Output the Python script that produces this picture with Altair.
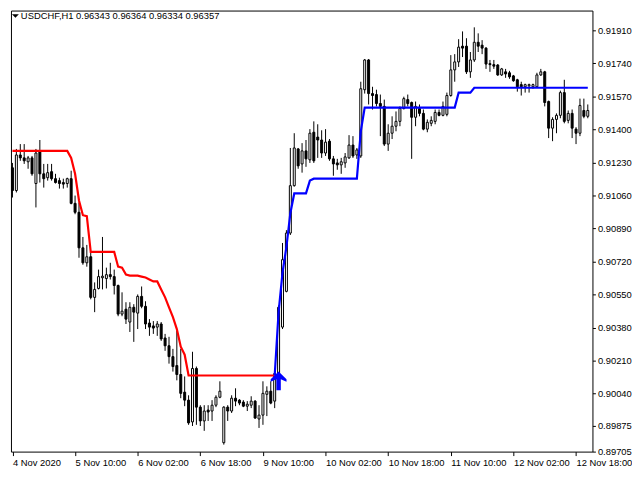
import altair as alt
import pandas as pd

# ---- candle data (H1 bars, index 0 = 4 Nov 18:00) ----
open_ = [0.91203, 0.91086, 0.91269, 0.91254, 0.91234, 0.91254, 0.91122, 0.91284, 0.91172, 0.91152,
         0.91183, 0.91147, 0.91137, 0.91127, 0.91122, 0.91147, 0.91020, 0.90974, 0.90791, 0.90714,
         0.90745, 0.90536, 0.90582, 0.90637, 0.90633, 0.90653, 0.90643, 0.90597, 0.90450, 0.90475,
         0.90409, 0.90485, 0.90455, 0.90541, 0.90490, 0.90404, 0.90389, 0.90383, 0.90399, 0.90327,
         0.90287, 0.90231, 0.90185, 0.90139, 0.90048, 0.90007, 0.89895, 0.90170, 0.89971, 0.89900,
         0.89956, 0.89951, 0.89981, 0.90022, 0.89788, 0.89971, 0.89951, 0.90017, 0.90007, 0.89997,
         0.89976, 0.89981, 0.90002, 0.89910, 0.89930, 0.90037, 0.90053, 0.90002, 0.90134, 0.90383,
         0.90567, 0.90867, 0.91111, 0.91300, 0.91223, 0.91290, 0.91244, 0.91386, 0.91361, 0.91346,
         0.91279, 0.91340, 0.91249, 0.91228, 0.91218, 0.91228, 0.91254, 0.91320, 0.91269, 0.91264,
         0.91605, 0.91758, 0.91585, 0.91580, 0.91534, 0.91519, 0.91325, 0.91381, 0.91417, 0.91442,
         0.91508, 0.91554, 0.91539, 0.91463, 0.91508, 0.91483, 0.91402, 0.91432, 0.91442, 0.91488,
         0.91473, 0.91478, 0.91575, 0.91707, 0.91748, 0.91829, 0.91829, 0.91697, 0.91758, 0.91849,
         0.91834, 0.91819, 0.91739, 0.91734, 0.91732, 0.91681, 0.91697, 0.91692, 0.91676, 0.91656,
         0.91631, 0.91620, 0.91625, 0.91620, 0.91620, 0.91681, 0.91697, 0.91544, 0.91407, 0.91452,
         0.91473, 0.91590, 0.91447, 0.91483, 0.91402, 0.91381, 0.91498, 0.91468]
high = [0.91228, 0.91300, 0.91325, 0.91325, 0.91264, 0.91264, 0.91300, 0.91346, 0.91223, 0.91223,
        0.91223, 0.91172, 0.91152, 0.91147, 0.91152, 0.91188, 0.91060, 0.91025, 0.90847, 0.90806,
        0.90770, 0.90613, 0.90679, 0.90847, 0.90689, 0.90714, 0.90679, 0.90602, 0.90562, 0.90511,
        0.90511, 0.90501, 0.90551, 0.90592, 0.90516, 0.90424, 0.90414, 0.90414, 0.90409, 0.90348,
        0.90333, 0.90271, 0.90363, 0.90271, 0.90129, 0.90032, 0.90256, 0.90180, 0.89981, 0.89981,
        0.89981, 0.90007, 0.90032, 0.90104, 0.89976, 0.89981, 0.90032, 0.90068, 0.90012, 0.90007,
        0.90002, 0.90027, 0.90007, 0.89981, 0.90104, 0.90078, 0.90104, 0.90160, 0.90495, 0.90816,
        0.90882, 0.91305, 0.91381, 0.91305, 0.91330, 0.91346, 0.91402, 0.91442, 0.91427, 0.91396,
        0.91402, 0.91351, 0.91264, 0.91249, 0.91254, 0.91279, 0.91371, 0.91366, 0.91305, 0.91646,
        0.91763, 0.91763, 0.91620, 0.91605, 0.91580, 0.91554, 0.91427, 0.91468, 0.91493, 0.91519,
        0.91569, 0.91580, 0.91544, 0.91544, 0.91529, 0.91503, 0.91452, 0.91468, 0.91503, 0.91503,
        0.91544, 0.91590, 0.91783, 0.91788, 0.91865, 0.91905, 0.91870, 0.91799, 0.91926, 0.91895,
        0.91860, 0.91824, 0.91758, 0.91758, 0.91737, 0.91717, 0.91712, 0.91702, 0.91681, 0.91661,
        0.91646, 0.91636, 0.91636, 0.91636, 0.91692, 0.91712, 0.91702, 0.91549, 0.91463, 0.91483,
        0.91600, 0.91656, 0.91498, 0.91503, 0.91412, 0.91559, 0.91559, 0.91529]
low = [0.91050, 0.91076, 0.91239, 0.91223, 0.91198, 0.91162, 0.90999, 0.91127, 0.91101, 0.91137,
       0.91137, 0.91122, 0.91096, 0.91096, 0.91101, 0.91015, 0.90964, 0.90740, 0.90704, 0.90694,
       0.90526, 0.90460, 0.90577, 0.90577, 0.90582, 0.90628, 0.90551, 0.90439, 0.90439, 0.90399,
       0.90358, 0.90307, 0.90373, 0.90480, 0.90373, 0.90338, 0.90348, 0.90338, 0.90312, 0.90261,
       0.90195, 0.90154, 0.90109, 0.90017, 0.89976, 0.89880, 0.89874, 0.89880, 0.89874, 0.89849,
       0.89900, 0.89900, 0.89971, 0.90017, 0.89778, 0.89900, 0.89941, 0.89976, 0.89981, 0.89971,
       0.89951, 0.89966, 0.89910, 0.89864, 0.89880, 0.89925, 0.89986, 0.89966, 0.90119, 0.90373,
       0.90562, 0.90857, 0.91106, 0.91198, 0.91178, 0.91208, 0.91228, 0.91228, 0.91254, 0.91254,
       0.91264, 0.91239, 0.91162, 0.91193, 0.91172, 0.91203, 0.91249, 0.91254, 0.91249, 0.91254,
       0.91585, 0.91529, 0.91503, 0.91519, 0.91366, 0.91315, 0.91290, 0.91351, 0.91391, 0.91417,
       0.91503, 0.91519, 0.91249, 0.91417, 0.91468, 0.91396, 0.91386, 0.91417, 0.91427, 0.91468,
       0.91468, 0.91468, 0.91569, 0.91646, 0.91722, 0.91773, 0.91686, 0.91666, 0.91748, 0.91799,
       0.91788, 0.91712, 0.91697, 0.91712, 0.91676, 0.91676, 0.91666, 0.91661, 0.91646, 0.91595,
       0.91575, 0.91590, 0.91590, 0.91610, 0.91615, 0.91676, 0.91519, 0.91356, 0.91340, 0.91381,
       0.91458, 0.91432, 0.91432, 0.91356, 0.91325, 0.91366, 0.91458, 0.91458]
close = [0.91086, 0.91269, 0.91254, 0.91239, 0.91254, 0.91172, 0.91279, 0.91172, 0.91147, 0.91178,
         0.91147, 0.91127, 0.91122, 0.91119, 0.91147, 0.91020, 0.90974, 0.90791, 0.90714, 0.90745,
         0.90536, 0.90577, 0.90643, 0.90645, 0.90653, 0.90643, 0.90597, 0.90450, 0.90465, 0.90424,
         0.90485, 0.90460, 0.90541, 0.90490, 0.90399, 0.90383, 0.90378, 0.90399, 0.90322, 0.90287,
         0.90231, 0.90180, 0.90139, 0.90042, 0.90007, 0.89890, 0.90170, 0.89971, 0.89900, 0.89951,
         0.89946, 0.89981, 0.90022, 0.90053, 0.89971, 0.89951, 0.90017, 0.90002, 0.89992, 0.89976,
         0.89986, 0.90002, 0.89915, 0.89930, 0.90042, 0.90053, 0.89992, 0.90144, 0.90485, 0.90730,
         0.90867, 0.91111, 0.91305, 0.91213, 0.91290, 0.91249, 0.91381, 0.91239, 0.91346, 0.91279,
         0.91335, 0.91249, 0.91223, 0.91218, 0.91234, 0.91259, 0.91320, 0.91264, 0.91295, 0.91610,
         0.91758, 0.91585, 0.91575, 0.91534, 0.91519, 0.91325, 0.91381, 0.91417, 0.91442, 0.91508,
         0.91559, 0.91534, 0.91463, 0.91519, 0.91483, 0.91402, 0.91437, 0.91447, 0.91488, 0.91473,
         0.91519, 0.91575, 0.91707, 0.91748, 0.91824, 0.91819, 0.91697, 0.91758, 0.91849, 0.91829,
         0.91819, 0.91737, 0.91734, 0.91726, 0.91681, 0.91712, 0.91686, 0.91671, 0.91651, 0.91620,
         0.91620, 0.91631, 0.91631, 0.91631, 0.91681, 0.91697, 0.91539, 0.91407, 0.91452, 0.91473,
         0.91590, 0.91442, 0.91483, 0.91407, 0.91381, 0.91524, 0.91468, 0.91498]

# ---- trailing-stop indicator (red = down trend, blue = up trend) ----
RED_START = 0
red_line = [0.91290, 0.91290, 0.91290, 0.91290, 0.91290, 0.91290, 0.91290, 0.91290, 0.91290, 0.91290,
            0.91290, 0.91290, 0.91290, 0.91290, 0.91290, 0.91254, 0.91172, 0.91035, 0.90959, 0.90954,
            0.90770, 0.90770, 0.90770, 0.90770, 0.90770, 0.90770, 0.90770, 0.90694, 0.90689, 0.90653,
            0.90648, 0.90648, 0.90648, 0.90643, 0.90638, 0.90628, 0.90618, 0.90618, 0.90577, 0.90536,
            0.90485, 0.90434, 0.90373, 0.90282, 0.90241, 0.90134, 0.90134, 0.90134, 0.90134, 0.90134,
            0.90134, 0.90134, 0.90134, 0.90134, 0.90134, 0.90134, 0.90134, 0.90134, 0.90134, 0.90134,
            0.90134, 0.90134, 0.90134, 0.90134, 0.90134, 0.90134, 0.90134, 0.90134]
BLUE_START = 67
blue_line = [0.90134, 0.90460, 0.90663, 0.90796, 0.90969, 0.91071, 0.91071, 0.91071, 0.91071, 0.91137,
             0.91147, 0.91147, 0.91147, 0.91147, 0.91147, 0.91147, 0.91147, 0.91147, 0.91147, 0.91147,
             0.91147, 0.91147, 0.91391, 0.91513, 0.91513, 0.91513, 0.91513, 0.91513, 0.91513, 0.91513,
             0.91513, 0.91513, 0.91513, 0.91513, 0.91513, 0.91513, 0.91513, 0.91513, 0.91513, 0.91513,
             0.91513, 0.91513, 0.91513, 0.91513, 0.91513, 0.91513, 0.91513, 0.91590, 0.91590, 0.91590,
             0.91590, 0.91615, 0.91615, 0.91615, 0.91615, 0.91615, 0.91615, 0.91615, 0.91615, 0.91615,
             0.91615, 0.91615, 0.91615, 0.91615, 0.91615, 0.91615, 0.91615, 0.91615, 0.91615, 0.91615,
             0.91615, 0.91615, 0.91615, 0.91615, 0.91615, 0.91615, 0.91615, 0.91615, 0.91615, 0.91615,
             0.91615]
arrow_bar = [68]
arrow_price = [0.90106]

# ---- axis labels ----
x_tick_values = [0, 16, 32, 48, 64, 80, 96, 112, 128, 144]
x_tick_labels = ["4 Nov 2020", "5 Nov 10:00", "6 Nov 02:00", "6 Nov 18:00", "9 Nov 10:00",
                 "10 Nov 02:00", "10 Nov 18:00", "11 Nov 10:00", "12 Nov 02:00", "12 Nov 18:00"]
y_tick_values = [0.91910, 0.91740, 0.91570, 0.91400, 0.91230, 0.91060, 0.90890, 0.90720,
                 0.90550, 0.90380, 0.90210, 0.90040, 0.89875, 0.89743]
y_tick_labels = ["0.91910", "0.91740", "0.91570", "0.91400", "0.91230", "0.91060", "0.90890",
                 "0.90720", "0.90550", "0.90380", "0.90210", "0.90040", "0.89875", "0.89705"]
title_text = ["USDCHF,H1  0.96343 0.96364 0.96334 0.96357"]

FONT = "Liberation Sans"

n = len(open_)
candles = pd.DataFrame({"bar": list(range(n)), "open": open_, "high": high,
                        "low": low, "close": close})
candles["dir"] = ["up" if c >= o else "down" for o, c in zip(open_, close)]
red_df = pd.DataFrame({"bar": list(range(RED_START, RED_START + len(red_line))), "v": red_line})
blue_df = pd.DataFrame({"bar": list(range(BLUE_START, BLUE_START + len(blue_line))), "v": blue_line})
arrow_df = pd.DataFrame({"bar": arrow_bar, "v": arrow_price})
title_df = pd.DataFrame({"t": title_text})

xs = alt.Scale(domain=[-0.38, 148.19], nice=False, zero=False, padding=0)
ys = alt.Scale(domain=[0.897421, 0.920123], nice=False, zero=False, padding=0)

x_label_expr = ("[" + ",".join("'%s'" % l for l in x_tick_labels) + "][indexof(["
                + ",".join(str(v) for v in x_tick_values) + "], datum.value)]")
y_label_expr = ("[" + ",".join("'%s'" % l for l in y_tick_labels) + "][indexof(["
                + ",".join(repr(v) for v in y_tick_values) + "], datum.value)]")

x_axis = alt.Axis(values=x_tick_values, labelExpr=x_label_expr, title=None, grid=False,
                  domain=False, tickSize=4, tickColor="black", labelColor="black",
                  labelFont=FONT, labelFontSize=9.5, labelAlign="left", labelBaseline="top",
                  labelPadding=2, labelFlush=False, labelOverlap=False)
y_axis = alt.Axis(values=y_tick_values, labelExpr=y_label_expr, orient="right", title=None,
                  grid=False, domain=False, tickSize=3, tickColor="black", labelColor="black",
                  labelFont=FONT, labelFontSize=9.5, labelBaseline="middle", labelPadding=2,
                  labelFlush=False, labelOverlap=False)


def X():
    return alt.X("bar:Q", scale=xs, axis=x_axis)


def Y(field):
    return alt.Y(field + ":Q", scale=ys, axis=y_axis)


base = alt.Chart(candles)
wicks = base.mark_rule(color="black", strokeWidth=1).encode(
    x=X(), y=Y("low"), y2="high:Q")
bodies = base.mark_bar(size=2, stroke="black", strokeWidth=1).encode(
    x=X(), y=Y("open"), y2="close:Q",
    fill=alt.Fill("dir:N", scale=alt.Scale(domain=["up", "down"], range=["white", "black"]),
                  legend=None),
)
red = alt.Chart(red_df).mark_line(color="#FF0000", strokeWidth=2.2).encode(x=X(), y=Y("v"))
blue = alt.Chart(blue_df).mark_line(color="#0000FF", strokeWidth=2.2).encode(x=X(), y=Y("v"))
arrow_path = ("M0,-1.19L1,-0.2L1,0.1L0.28,-0.2L0.28,1.19L-0.28,1.19L-0.28,-0.2"
              "L-1,0.1L-1,-0.2Z")
arrow = alt.Chart(arrow_df).mark_point(shape=arrow_path, filled=True, color="#0000FF",
                                       size=256, opacity=1).encode(x=X(), y=Y("v"))
title = alt.Chart(title_df).mark_text(align="left", baseline="top", font=FONT, fontSize=9.5,
                                      color="black").encode(
    text="t:N", x=alt.value(10), y=alt.value(1))
tri = alt.Chart(title_df).mark_point(shape="M-1,-0.5L1,-0.5L0,0.5Z", filled=True,
                                     color="black", size=49, opacity=1).encode(
    x=alt.value(4.5), y=alt.value(5.5))

chart = alt.layer(wicks, bodies, red, blue, arrow, title, tri).properties(
    width=588, height=446, padding={"left": 0, "top": 0, "right": 0, "bottom": 0},
    background="white",
).configure_view(stroke="black", strokeWidth=1)

chart.save("out.html", embed_options={"renderer": "svg", "actions": False})
